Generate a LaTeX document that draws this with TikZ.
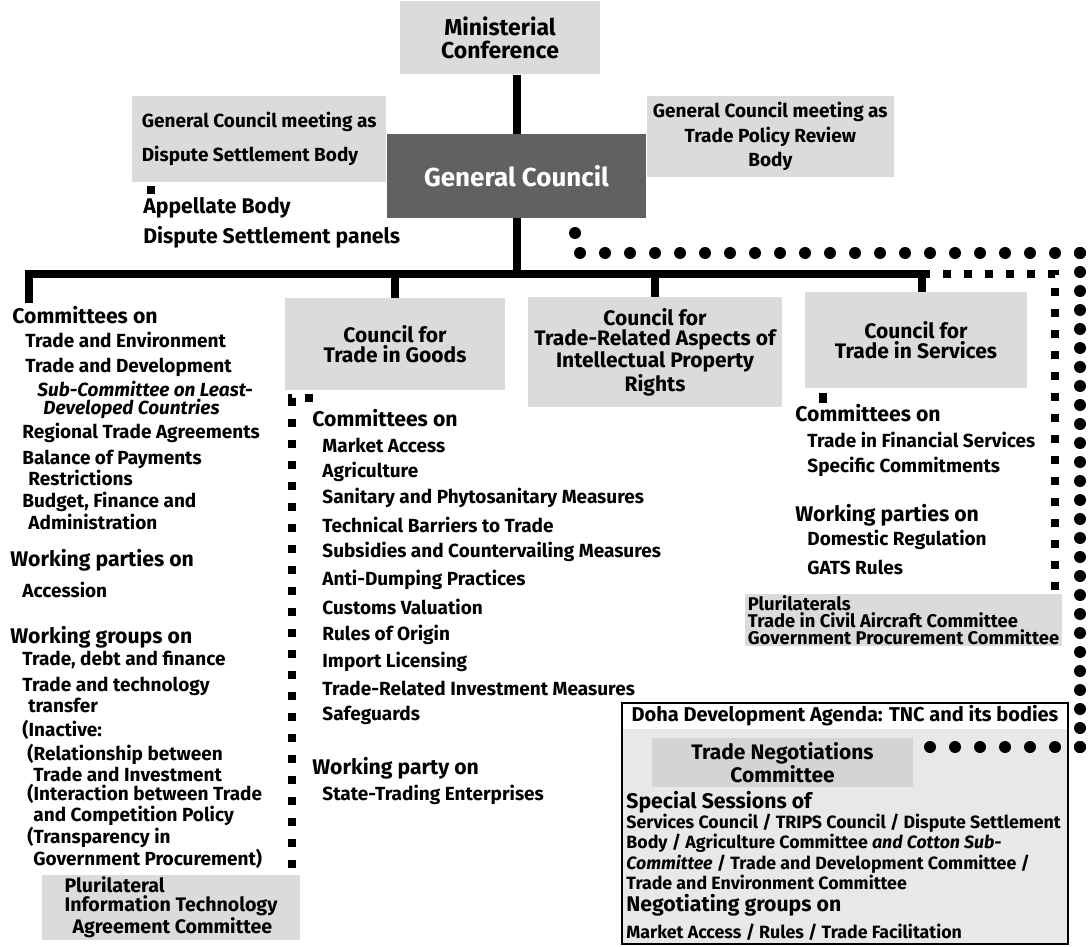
\documentclass[tikz,border=0pt]{standalone}
\usepackage{fontspec}
\setmainfont{Fira Sans}

\def \ttl {\fontsize{10.5}{10}\selectfont\bfseries}
\def \big {\fontsize{11.5}{11.5}\selectfont\bfseries}
\def \hdg {\fontsize{10.6}{10.6}\selectfont\bfseries}
\def \itm {\fontsize{9.5}{9}\selectfont\bfseries}
\def \dtx {\fontsize{8.9}{8.9}\selectfont\bfseries}

\tikzset{
  grbox/.style={fill=gray!28, inner sep=0pt, align=center},
  gcbox/.style={fill=black!62, text=white, inner sep=0pt, font=\fontsize{13}{13}\selectfont\bfseries},
  txt/.style={anchor=west, inner sep=0pt, align=left, font=\itm},
  hd/.style={anchor=west, inner sep=0pt, align=left, font=\hdg},
  dt/.style={anchor=west, inner sep=0pt, align=left, font=\dtx},
  sq/.style={fill=black, inner sep=0pt, minimum size=4pt},
  bar/.style={line width=4pt},
  sqline/.style={line width=4pt, dash pattern=on 4pt off 6.5pt},
  dotline/.style={line width=6pt, line cap=round, dash pattern=on 0pt off 12.5pt},
  dotlinev/.style={line width=6pt, line cap=round, dash pattern=on 0pt off 9.5pt}
}

\begin{document}
\begin{tikzpicture}[x=0.5pt,y=-0.5pt]
\useasboundingbox (0,0) rectangle (1090,946);

% top of the chart
\node[grbox, minimum width=100pt, minimum height=36.5pt, font=\big] (mc) at (500,38) {Ministerial\\Conference};
\node[gcbox, minimum width=129.5pt, minimum height=42pt] (gc) at (516.5,176) {General Council};
\node[grbox, anchor=east, minimum width=127pt, minimum height=43pt, align=left, font=\itm] (dsb) at (gc.west |- 0,139) {General Council meeting as\\[6pt]Dispute Settlement Body};
\node[grbox, anchor=west, minimum width=123.5pt, minimum height=40.5pt, font=\itm] (tprb) at (gc.east |- 0,136.5) {General Council meeting as\\[1.5pt]Trade Policy Review\\[1.5pt]Body};
\node[sq] (apsq) at (151,190) {};
\node[hd] (appb) at (143,208) {Appellate Body};
\node[hd] (dsp) at (143,237) {Dispute Settlement panels};

% councils
\node[grbox, minimum width=110pt, minimum height=46pt, font=\ttl] (goods) at (395,344) {Council for\\Trade in Goods};
\node[grbox, minimum width=127pt, minimum height=55pt, font=\ttl] (trips) at (655,352) {Council for\\Trade-Related Aspects of\\Intellectual Property\\Rights};
\node[grbox, minimum width=111pt, minimum height=48pt, font=\ttl] (services) at (916,340) {Council for\\Trade in Services};

% thick lines
\coordinate (lcEnd) at (29,303);
\coordinate (bL) at (29,274);
\coordinate (bR) at (922,274);
\draw[bar] (mc.south -| gc.north) -- (gc.north);
\draw[bar] (gc.south) -- (gc.south |- bL);
\draw[bar] (lcEnd) -- (bL) -- (bR) -- (bR |- services.north);
\draw[bar] (goods.north |- bL) -- (goods.north);
\draw[bar] (trips.north |- bL) -- (trips.north);

% left column
\node[hd] (lcA) at (12,315) {Committees on};
\node[txt] (lc1) at (25,340) {Trade and Environment};
\node[txt] (lc2) at (25,367) {Trade and Development};
\node[txt, font=\itm\itshape] (lc3) at (37,400) {Sub-Committee on Least-\\\hspace*{3pt}Developed Countries};
\node[txt] (lc4) at (22,433) {Regional Trade Agreements};
\node[txt] (lc5) at (22,468) {Balance of Payments\\\hspace*{3pt}Restrictions};
\node[txt] (lc6) at (22,511) {Budget, Finance and\\\hspace*{3pt}Administration};
\node[hd] (lcB) at (10,560) {Working parties on};
\node[txt] (lc7) at (22,590) {Accession};
\node[hd] (lcC) at (10,637) {Working groups on};
\node[txt] (lc8) at (22,660) {Trade, debt and finance};
\node[txt] (lc9) at (22,695) {Trade and technology\\\hspace*{3pt}transfer};
\node[txt] (lc10) at (22,730) {(Inactive:};
\node[txt] (lc11) at (27,763) {(Relationship between\\\hspace*{3pt}Trade and Investment};
\node[txt] (lc12) at (27,805) {(Interaction between Trade\\\hspace*{3pt}and Competition Policy};
\node[txt] (lc13) at (27,848) {(Transparency in\\\hspace*{3pt}Government Procurement)};
\node[grbox, minimum width=129pt, minimum height=32.5pt, font=\fontsize{9.8}{9.2}\selectfont\bfseries, align=left] (ita) at (171,907.5) {Plurilateral\\Information Technology\\\hspace*{4pt}Agreement Committee};

% goods column
\node[hd] (gdA) at (312,418) {Committees on};
\node[txt] (gd1) at (322,445) {Market Access};
\node[txt] (gd2) at (322,472) {Agriculture};
\node[txt] (gd3) at (322,498) {Sanitary and Phytosanitary Measures};
\node[txt] (gd4) at (322,525) {Technical Barriers to Trade};
\node[txt] (gd5) at (322,552) {Subsidies and Countervailing Measures};
\node[txt] (gd6) at (322,580) {Anti-Dumping Practices};
\node[txt] (gd7) at (322,607) {Customs Valuation};
\node[txt] (gd8) at (322,635) {Rules of Origin};
\node[txt] (gd9) at (322,662) {Import Licensing};
\node[txt] (gd10) at (322,688) {Trade-Related Investment Measures};
\node[txt] (gd11) at (322,715) {Safeguards};
\node[hd] (gdB) at (312,768) {Working party on};
\node[txt] (gd12) at (322,795) {State-Trading Enterprises};

% services column
\node[sq, minimum height=5pt] (svsq) at (823,398) {};
\node[hd] (svA) at (795,413) {Committees on};
\node[txt] (sv1) at (807,440) {Trade in Financial Services};
\node[txt] (sv2) at (807,467) {Specific Commitments};
\node[hd] (svB) at (795,515) {Working parties on};
\node[txt] (sv3) at (807,540) {Domestic Regulation};
\node[txt] (sv4) at (807,567) {GATS Rules};
\node[grbox, minimum width=158.5pt, minimum height=26pt, font=\fontsize{9.2}{8.4}\selectfont\bfseries, align=left] (pluri) at (903.5,620) {Plurilaterals\\Trade in Civil Aircraft Committee\\Government Procurement Committee};

% square lines
\coordinate (gsqA) at (313,398);
\coordinate (gsqB) at (292,398);
\coordinate (ssqB) at (1055,274);
\draw[sqline] (gsqA) -- (gsqB) -- (gsqB |- ita.north);
\draw[sqline] (bR) -- (ssqB) -- (ssqB |- pluri.north);

% doha box
\node[fill=gray!18, minimum width=223pt, minimum height=120.5pt, inner sep=0pt] (doha) at (845,823.5) {};
\node[fill=white, anchor=north, minimum width=222pt, minimum height=13pt, inner sep=0pt, font=\fontsize{10}{10}\selectfont\bfseries] (dohah) at (doha.north) {Doha Development Agenda: TNC and its bodies};
\draw[line width=1pt] (doha.north west) rectangle (doha.south east);
\node[grbox, fill=gray!34, minimum width=130.5pt, minimum height=24.5pt, font=\ttl] (tnc) at (782.5,762.5) {Trade Negotiations\\Committee};
\node[hd] (spA) at (626,802) {Special Sessions of};
\node[dt] (sp1) at (626,852) {Services Council / TRIPS Council / Dispute Settlement\\Body / Agriculture Committee \textit{and Cotton Sub-}\\\textit{Committee} / Trade and Development Committee /\\Trade and Environment Committee};
\node[hd] (ngA) at (626,905) {Negotiating groups on};
\node[dt] (ng1) at (626,932) {Market Access / Rules / Trade Facilitation};

% dotted line
\coordinate (dA) at (575,233);
\coordinate (dB) at (575,253);
\coordinate (dC) at (1080,253);
\coordinate (dD) at (1080,747);
\draw[dotline] (dA) -- (dB) -- (dC);
\draw[dotlinev] (dC) -- (dD);
\draw[dotline] (dD) -- (dD -| tnc.east);
\end{tikzpicture}
\end{document}
